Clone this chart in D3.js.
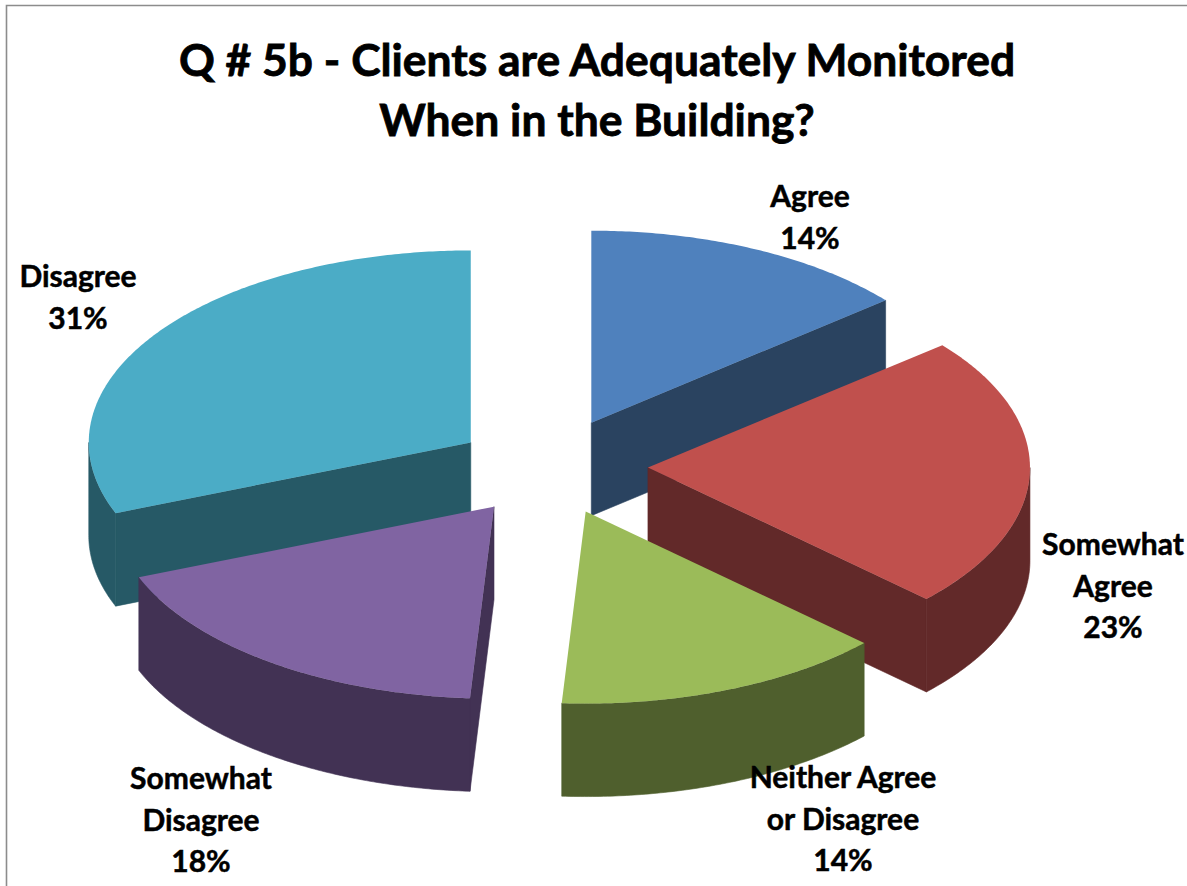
<!DOCTYPE html>
<html>
<head>
<meta charset="utf-8">
<script src="https://cdn.jsdelivr.net/npm/d3@7/dist/d3.min.js"></script>
<style>
html,body{margin:0;padding:0;background:#fff;overflow:hidden}
text{font-family:Lato,"Open Sans",sans-serif;font-weight:700;fill:#000;stroke:#000;text-anchor:middle}
</style>
</head>
<body>
<svg id="chart" width="1187" height="886"></svg>
<script>
const categories = ["Agree", "Somewhat Agree", "Neither Agree or Disagree", "Somewhat Disagree", "Disagree"];
const percents = [14, 23, 14, 18, 31];
const topColors = ["#4F81BD", "#C0504D", "#9BBB59", "#8064A2", "#4BACC6"];
const sideColors = ["#2A4360", "#622929", "#4F5F2D", "#423254", "#265966"];
const titleLines = ["Q # 5b - Clients are Adequately Monitored", "When in the Building?"];
const labelLines = [["Agree"], ["Somewhat", "Agree"], ["Neither Agree", "or Disagree"], ["Somewhat", "Disagree"], ["Disagree"]];
const labelX = [810, 1113, 843, 201, 78];
const labelTop = [207, 555, 788, 789, 287];
const drawOrder = [0, 4, 1, 3, 2];
const nudgeX = [-1, 0, -1, 0, 0];
const nudgeY = [0, -1, -1, 0, 3];

const W = 1187, H = 886;
const cx = 551, cy = 467, rx = 382, ry = 192, depth = 93, explodeX = 97, explodeY = 49;
const svg = d3.select("#chart");

// chart frame: only the left and top edges are inside the picture
svg.append("path").attr("d", `M6.5,${H}V5.5H${W}`).attr("fill", "none").attr("stroke", "#8c8c8c").attr("stroke-width", 1.6);

const arcs = d3.pie().sort(null).value(d => d)(percents);
const px = (o, a) => [o[0] + rx * Math.sin(a), o[1] - ry * Math.cos(a)];
const line = d3.line();
const arcPts = (o, a0, a1) => {
  const n = Math.max(2, Math.ceil((a1 - a0) / 0.01));
  return d3.range(n + 1).map(i => px(o, a0 + (a1 - a0) * i / n));
};
const down = p => [p[0], p[1] + depth];

const g = svg.append("g");
drawOrder.forEach(i => {
  const a = arcs[i], mid = (a.startAngle + a.endAngle) / 2;
  const o = [cx + explodeX * Math.sin(mid) + nudgeX[i], cy - explodeY * Math.cos(mid) + nudgeY[i]];
  const side = sideColors[i];
  const addSide = pts => g.append("path").attr("d", line(pts) + "Z")
    .attr("fill", side).attr("stroke", side).attr("stroke-width", 0.6);

  if (Math.sin(a.startAngle) < -1e-6) {
    const e = px(o, a.startAngle);
    addSide([o, e, down(e), down(o)]);
  }
  if (Math.sin(a.endAngle) > 1e-6) {
    const e = px(o, a.endAngle);
    addSide([o, e, down(e), down(o)]);
  }
  const w0 = Math.max(a.startAngle, Math.PI / 2), w1 = Math.min(a.endAngle, 3 * Math.PI / 2);
  if (w1 > w0) {
    const rim = arcPts(o, w0, w1);
    addSide(rim.concat(rim.slice().reverse().map(down)));
  }
  g.append("path").attr("d", line([o].concat(arcPts(o, a.startAngle, a.endAngle))) + "Z")
    .attr("fill", topColors[i]);
});

svg.append("g").selectAll("text").data(titleLines).join("text")
  .attr("x", 597).attr("y", (d, i) => 75.5 + i * 60)
  .attr("font-size", 44.4).attr("stroke-width", 0.8).text(d => d);

categories.forEach((c, i) => {
  const lines = labelLines[i].concat([percents[i] + "%"]);
  svg.append("g").selectAll("text").data(lines).join("text")
    .attr("x", labelX[i]).attr("y", (d, k) => labelTop[i] + k * 41.5)
    .attr("font-size", 30).attr("stroke-width", 0.5).text(d => d);
});
</script>
</body>
</html>
